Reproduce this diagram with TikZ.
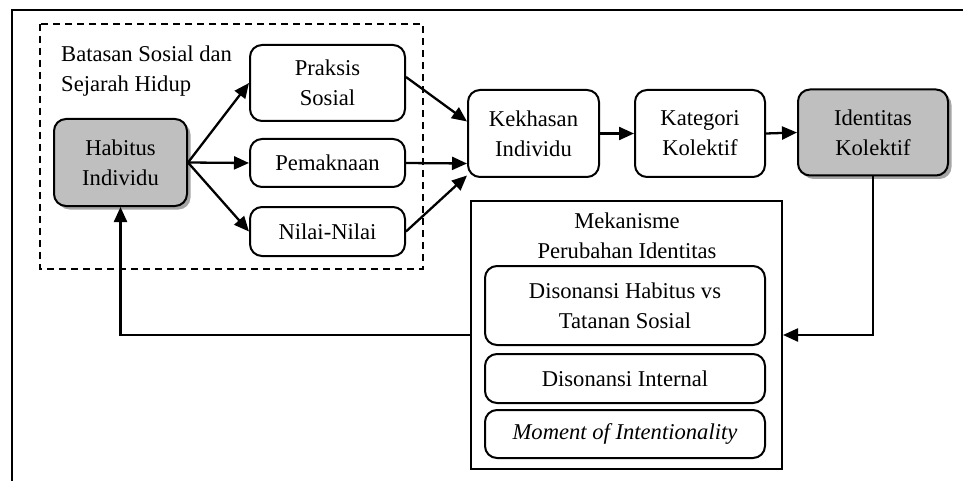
\documentclass[tikz,border=0pt]{standalone}
\usepackage{fontspec}
\setmainfont{Liberation Serif}
\newfontfamily\tnr{Liberation Serif}
\usetikzlibrary{arrows.meta,positioning,calc,shadows}
\definecolor{hgray}{HTML}{BFBFBF}
\definecolor{hshadow}{HTML}{7F7F7F}
\definecolor{ink}{HTML}{000000}
\tikzset{
  every node/.style={font=\tnr\fontsize{22.6}{30}\selectfont},
  blk/.style ={rounded corners=12pt, line width=2pt, draw=ink, fill=white,
               align=center, inner sep=0pt},
  hab/.style ={blk, fill=hgray, drop shadow={shadow xshift=3.5pt, shadow yshift=-3.5pt,
               fill=hshadow, opacity=0.7}},
  mbox/.style={draw=ink, line width=2pt, inner sep=0pt},
  ar/.style  ={-{Triangle[length=15pt,width=13pt]}, line width=2.3pt, draw=ink},
  ln/.style  ={line width=2pt, draw=ink},
  bnd/.style ={line width=1.8pt, draw=ink, dash pattern=on 7pt off 5pt},
}

\begin{document}
\begin{tikzpicture}[x=1pt, y=-1pt]
\useasboundingbox (0,0) rectangle (963,481);

% ============ frame ==========================================================
\draw[ln] (12,481) -- (12,10) -- (963,10);

% ============ social boundary ================================================
\draw[bnd] (40,24) rectangle (423,269);
\node[anchor=west, align=left, inner sep=0pt] (bts) at (61,71) {Batasan Sosial dan\\Sejarah Hidup};
\node[hab, minimum width=133pt, minimum height=87pt] (hab) at (120.5,162.5) {Habitus\\Individu};
\node[blk, minimum width=155pt, minimum height=76pt] (prk) at (327.5,83) {Praksis\\Sosial};
\node[blk, minimum width=155pt, minimum height=48pt] (pmk) at (327.5,163) {Pemaknaan};
\node[blk, minimum width=155pt, minimum height=49pt] (nil) at (327.5,231.5) {Nilai-Nilai};
\draw[ar] (hab.east) -- (prk.west);
\draw[ar] (hab.east) -- (pmk.west);
\draw[ar] (hab.east) -- (nil.west);

% ============ collective chain ===============================================
\node[blk, minimum width=131pt, minimum height=87pt] (khs) at (533.5,133.5) {Kekhasan\\Individu};
\node[blk, minimum width=130pt, minimum height=87pt] (kat) at (700,133.5) {Kategori\\Kolektif};
\node[hab, minimum width=150pt, minimum height=86pt] (idk) at (873,132.5) {Identitas\\Kolektif};
\draw[ar] ($(prk.east)+(0,-6)$) -- ($(khs.west)+(0,-12)$);
\draw[ar] (pmk.east) -- ($(khs.west)+(0,30)$);
\draw[ar] (nil.east) -- ($(khs.west)+(0,42)$);
\draw[ar] (khs.east) -- (kat.west);
\draw[ar] (kat.east) -- (idk.west);

% ============ change mechanism ===============================================
\node[mbox, minimum width=311pt, minimum height=268pt] (mek) at (626.5,335) {};
\node[align=center, inner sep=0pt] (mekt) at (627,236) {Mekanisme\\Perubahan Identitas};
\node[blk, minimum width=280pt, minimum height=79pt] (dhs) at (625,305.5) {Disonansi Habitus vs\\Tatanan Sosial};
\node[blk, minimum width=280pt, minimum height=49pt] (din) at (625,378.5) {Disonansi Internal};
\node[blk, minimum width=280pt, minimum height=48pt] (moi) at (625,434) {\textit{Moment of Intentionality}};

% feedback loops
\draw[ar] (idk.south) |- (mek.east);
\draw[ar] (mek.west) -| (hab.south);

\end{tikzpicture}
\end{document}
